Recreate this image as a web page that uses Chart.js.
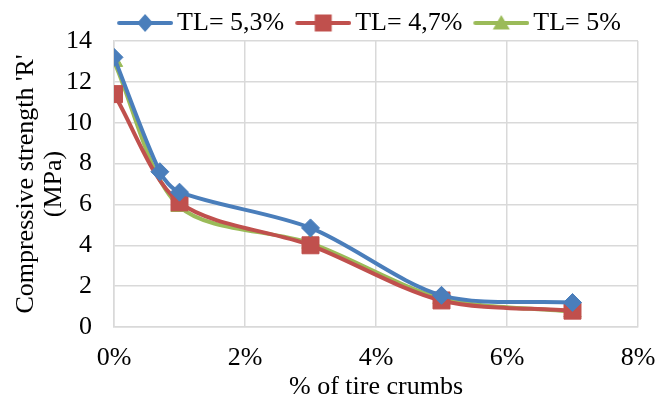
<!DOCTYPE html>
<html>
<head>
<meta charset="utf-8">
<script src="https://cdn.jsdelivr.net/npm/chart.js@4/dist/chart.umd.min.js"></script>
<style>
  html, body { margin: 0; padding: 0; background: #fff; }
  #wrap { width: 657px; height: 401px; }
</style>
</head>
<body>
<div id="wrap"><canvas id="canvas" width="657" height="401"></canvas></div>
<script>
// % of tire crumbs and compressive strength (MPa) per series
let xBlue = [0, 0.7, 1, 3, 5, 7];
let yBlue = [13.2, 7.6, 6.6, 4.85, 1.55, 1.2];
let xRed = [0, 1, 3, 5, 7];
let yRed = [11.4, 6.1, 4.0, 1.3, 0.8];
let xGreen = [0, 1, 3, 5, 7];
let yGreen = [13.0, 5.9, 4.1, 1.4, 0.75];
let seriesNames = ["TL= 5,3%", "TL= 4,7%", "TL= 5%"];
let xTicks = [0, 2, 4, 6, 8];

let colorBlue = "#4A7EBB";
let colorRed = "#C0504D";
let colorGreen = "#9BBB59";
let fontFam = "'Liberation Serif', 'Times New Roman', serif";

function toPoints(xs, ys) {
    return xs.map((x, i) => ({x: x, y: ys[i]}));
}

// legend icon: line + marker, with a transparent margin on the left for spacing
function legendIcon(color, style) {
    let m = 15;
    let c = document.createElement("canvas");
    c.width = 56 + m; c.height = 22;
    let g = c.getContext("2d");
    g.translate(m, 0);
    g.strokeStyle = color;
    g.lineWidth = 4;
    g.lineCap = "round";
    g.beginPath(); g.moveTo(2, 11); g.lineTo(54, 11); g.stroke();
    g.fillStyle = color;
    g.beginPath();
    if (style === "rectRot") {
        g.moveTo(28, 2); g.lineTo(36, 11); g.lineTo(28, 20); g.lineTo(20, 11);
    } else if (style === "rect") {
        g.rect(19.5, 2.5, 17, 17);
    } else {
        g.moveTo(28, 3); g.lineTo(36.5, 17.5); g.lineTo(19.5, 17.5);
    }
    g.closePath(); g.fill();
    return c;
}

let styles = ["rectRot", "rect", "triangle"];
let colors = [colorBlue, colorRed, colorGreen];
let icons = colors.map((c, i) => legendIcon(c, styles[i]));

// nudge the legend block to where it sits in the original figure
let legendShift = {
    id: "legendShift",
    afterLayout(chart) {
        chart.legend.left += 47;
        chart.legend.right += 47;
        chart.legend.top += 5;
        chart.legend.bottom += 5;
    }
};

new Chart(document.getElementById("canvas").getContext("2d"), {
    type: "line",
    data: {
        datasets: [
            {label: seriesNames[0], data: toPoints(xBlue, yBlue), borderColor: colorBlue, backgroundColor: colorBlue,
             pointStyle: "rectRot", pointRadius: 9, pointBorderWidth: 1, borderWidth: 4, tension: 0.3},
            {label: seriesNames[1], data: toPoints(xRed, yRed), borderColor: colorRed, backgroundColor: colorRed,
             pointStyle: "rect", pointRadius: 12, pointBorderWidth: 1, borderWidth: 4, tension: 0.3},
            {label: seriesNames[2], data: toPoints(xGreen, yGreen), borderColor: colorGreen, backgroundColor: colorGreen,
             pointStyle: "triangle", pointRadius: 10, pointBorderWidth: 1, borderWidth: 4, tension: 0.3}
        ]
    },
    plugins: [legendShift],
    options: {
        responsive: false,
        animation: false,
        layout: {padding: {left: 0, right: 19, top: 0, bottom: 0}},
        plugins: {
            legend: {
                position: "top",
                labels: {
                    usePointStyle: true,
                    pointStyleWidth: 53,
                    padding: 5,
                    color: "#000",
                    font: {family: fontFam, size: 26},
                    generateLabels: (chart) => chart.data.datasets.map((ds, i) => ({
                        text: ds.label,
                        pointStyle: icons[i],
                        fillStyle: colors[i],
                        strokeStyle: colors[i],
                        lineWidth: 0,
                        datasetIndex: i,
                        hidden: false
                    }))
                }
            },
            tooltip: {enabled: false}
        },
        scales: {
            x: {
                type: "linear",
                min: 0,
                max: 8,
                afterBuildTicks: (scale) => { scale.ticks = xTicks.map((v) => ({value: v})); },
                afterFit: (scale) => { scale.height = 74; scale.paddingLeft = 0; scale.paddingRight = 0; },
                ticks: {
                    color: "#000",
                    font: {family: fontFam, size: 26},
                    padding: 16,
                    maxRotation: 0,
                    callback: (v) => v + "%"
                },
                grid: {color: "#D9D9D9", lineWidth: 1.5, drawTicks: false},
                border: {color: "#D9D9D9", width: 1.5},
                title: {
                    display: true,
                    text: "% of tire crumbs",
                    color: "#000",
                    font: {family: fontFam, size: 26, lineHeight: 1.05},
                    padding: {top: 0, bottom: 0}
                }
            },
            y: {
                min: 0,
                max: 14,
                afterFit: (scale) => { scale.width = 114; scale.paddingTop = 0; scale.paddingBottom = 0; },
                ticks: {
                    stepSize: 2,
                    color: "#000",
                    font: {family: fontFam, size: 26},
                    padding: 22
                },
                grid: {color: "#D9D9D9", lineWidth: 1.5, drawTicks: false},
                border: {color: "#D9D9D9", width: 1.5},
                title: {
                    display: true,
                    text: ["Compressive strength 'R'", "(MPa)"],
                    color: "#000",
                    font: {family: fontFam, size: 26, lineHeight: 1.05},
                    padding: {top: 13, bottom: 0}
                }
            }
        }
    }
});
</script>
</body>
</html>
